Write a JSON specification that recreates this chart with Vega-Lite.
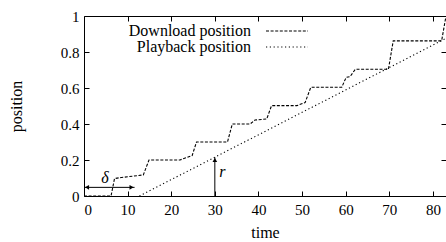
{
  "$schema": "https://vega.github.io/schema/vega-lite/v6.json",
  "width": 362,
  "height": 180,
  "autosize": "none",
  "padding": {"left": 84, "top": 16, "right": 0, "bottom": 46},
  "background": "white",
  "config": {
    "view": {"stroke": "black", "strokeWidth": 1},
    "font": "Liberation Serif",
    "axis": {"labelFont": "Liberation Serif", "titleFont": "Liberation Serif", "labelFontSize": 15, "titleFontSize": 16, "titleFontWeight": "normal", "labelColor": "black", "titleColor": "black", "tickColor": "black", "domain": false, "grid": false, "tickSize": -5},
    "legend": {"labelFont": "Liberation Serif", "labelFontSize": 16, "labelColor": "black"}
  },
  "datasets": {
    "curves": [
      {"series": "Download position", "t": 0, "v": 0},
      {"series": "Download position", "t": 6.2, "v": 0},
      {"series": "Download position", "t": 7, "v": 0.097},
      {"series": "Download position", "t": 8.6, "v": 0.103},
      {"series": "Download position", "t": 13.6, "v": 0.117},
      {"series": "Download position", "t": 14.9, "v": 0.2},
      {"series": "Download position", "t": 22, "v": 0.2},
      {"series": "Download position", "t": 24.8, "v": 0.225},
      {"series": "Download position", "t": 25.8, "v": 0.3},
      {"series": "Download position", "t": 32.9, "v": 0.3},
      {"series": "Download position", "t": 34, "v": 0.4},
      {"series": "Download position", "t": 38.1, "v": 0.4},
      {"series": "Download position", "t": 39.2, "v": 0.422},
      {"series": "Download position", "t": 41.9, "v": 0.428},
      {"series": "Download position", "t": 43, "v": 0.502},
      {"series": "Download position", "t": 48.8, "v": 0.502},
      {"series": "Download position", "t": 50.7, "v": 0.519},
      {"series": "Download position", "t": 52, "v": 0.604},
      {"series": "Download position", "t": 59.1, "v": 0.604},
      {"series": "Download position", "t": 60.1, "v": 0.659},
      {"series": "Download position", "t": 61, "v": 0.663},
      {"series": "Download position", "t": 62.2, "v": 0.704},
      {"series": "Download position", "t": 69.8, "v": 0.704},
      {"series": "Download position", "t": 70.9, "v": 0.862},
      {"series": "Download position", "t": 82, "v": 0.862},
      {"series": "Download position", "t": 83, "v": 1.0},
      {"series": "Playback position", "t": 12.7, "v": 0},
      {"series": "Playback position", "t": 82.7, "v": 0.872}
    ],
    "arrows": [
      {"name": "delta", "x": 0, "x2": 11.6, "y": 0.048, "y2": 0.048},
      {"name": "r", "x": 30, "x2": 30, "y": 0, "y2": 0.215}
    ],
    "heads": [
      {"dir": "left", "x": 0.7, "y": 0.048},
      {"dir": "right", "x": 10.9, "y": 0.048},
      {"dir": "up", "x": 30, "y": 0.2}
    ],
    "labels": [
      {"text": "δ", "x": 4.8, "y": 0.1},
      {"text": "r", "x": 31.7, "y": 0.135}
    ]
  },
  "resolve": {"axis": {"x": "independent", "y": "independent"}},
  "layer": [
    {
      "data": {"name": "curves"},
      "mark": {"type": "line", "color": "black", "strokeWidth": 1.1, "clip": true},
      "encoding": {
        "x": {"field": "t", "type": "quantitative", "scale": {"domain": [0, 83], "nice": false, "zero": false}, "axis": {"values": [0, 10, 20, 30, 40, 50, 60, 70, 80], "title": "time", "labelPadding": 11, "titlePadding": 7}},
        "y": {"field": "v", "type": "quantitative", "scale": {"domain": [0, 1], "nice": false}, "axis": {"values": [0, 0.2, 0.4, 0.6, 0.8, 1], "format": "~g", "title": "position", "labelPadding": 10, "titlePadding": 36}},
        "strokeDash": {"field": "series", "type": "nominal", "scale": {"domain": ["Download position", "Playback position"], "range": [[3, 1.6], [1.2, 2.6]]},
          "legend": {"title": null, "orient": "none", "legendX": 195, "legendY": 7, "padding": 0, "symbolType": "M-5.25,0H5.25", "symbolSize": 64, "symbolStrokeWidth": 1.1, "symbolStrokeColor": "black", "labelAlign": "right", "labelOffset": -44, "rowPadding": -4}}
      }
    },
    {
      "data": {"name": "arrows"},
      "mark": {"type": "rule", "color": "black", "strokeWidth": 1},
      "encoding": {
        "x": {"field": "x", "type": "quantitative", "scale": {"domain": [0, 83], "nice": false, "zero": false}, "axis": {"orient": "top", "values": [10, 20, 30, 40, 50, 60, 70, 80], "labels": false, "title": null}},
        "x2": {"field": "x2"},
        "y": {"field": "y", "type": "quantitative", "scale": {"domain": [0, 1], "nice": false}, "axis": {"orient": "right", "values": [0.2, 0.4, 0.6, 0.8], "labels": false, "title": null}},
        "y2": {"field": "y2"}
      }
    },
    {
      "data": {"name": "heads"},
      "mark": {"type": "point", "filled": true, "color": "black", "size": 22, "opacity": 1},
      "encoding": {
        "x": {"field": "x", "type": "quantitative", "axis": null},
        "y": {"field": "y", "type": "quantitative", "axis": null},
        "shape": {"field": "dir", "type": "nominal", "scale": {"domain": ["left", "right", "up"], "range": ["triangle-left", "triangle-right", "triangle-up"]}, "legend": null}
      }
    },
    {
      "data": {"name": "labels"},
      "mark": {"type": "text", "font": "Liberation Serif", "fontSize": 16, "fontStyle": "italic", "color": "black"},
      "encoding": {
        "x": {"field": "x", "type": "quantitative", "axis": null},
        "y": {"field": "y", "type": "quantitative", "axis": null},
        "text": {"field": "text"}
      }
    }
  ]
}
